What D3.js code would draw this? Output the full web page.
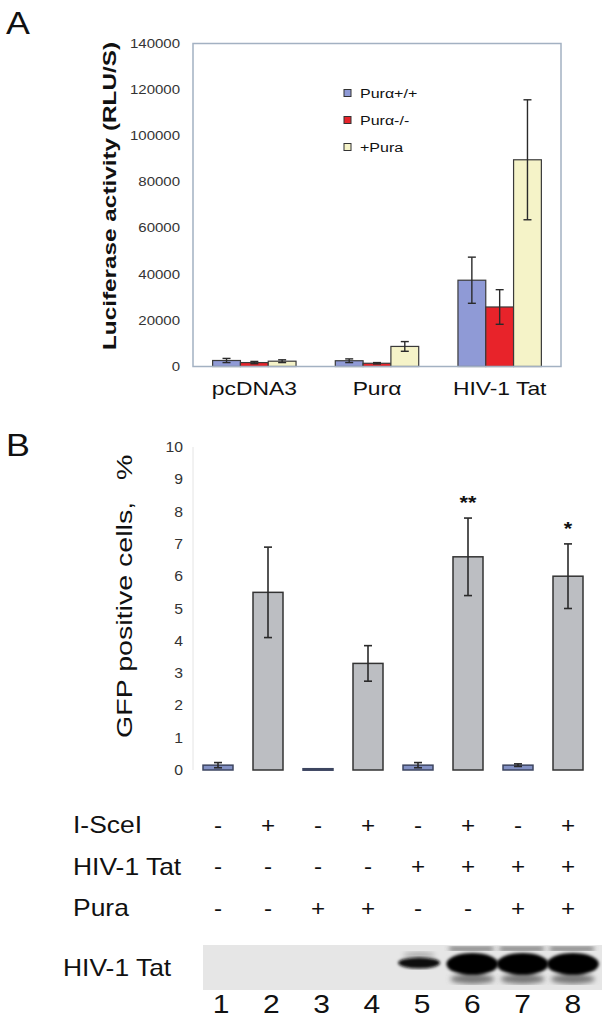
<!DOCTYPE html>
<html><head><meta charset="utf-8">
<script src="https://cdn.jsdelivr.net/npm/d3@7"></script>
<style>body{margin:0;background:#fff}svg{display:block;font-family:"Liberation Sans",Arial,sans-serif}</style>
</head><body>
<svg id="c" width="609" height="1021"></svg>
<script>
// ---------- Panel A data ----------
const groupsA = ["pcDNA3", "Purα", "HIV-1 Tat"];
const seriesA = ["Purα+/+", "Purα-/-", "+Pura"];
const valPlus  = [2600, 2500, 37400];
const errPlus  = [900, 800, 10000];
const valMinus = [1700, 1400, 25800];
const errMinus = [500, 300, 7500];
const valPura  = [2300, 8700, 89600];
const errPura  = [600, 2100, 26000];
const ticksA = [0, 20000, 40000, 60000, 80000, 100000, 120000, 140000];

// ---------- Panel B data ----------
const lanes = ["1", "2", "3", "4", "5", "6", "7", "8"];
const gfp    = [0.15, 5.5, 0.04, 3.3, 0.15, 6.6, 0.15, 6.0];
const gfpErr = [0.08, 1.4, 0.0, 0.55, 0.08, 1.2, 0.04, 1.0];
const stars  = ["", "", "", "", "", "**", "", "*"];
const ticksB = [0, 1, 2, 3, 4, 5, 6, 7, 8, 9, 10];
const rowNames = ["I-SceI", "HIV-1 Tat", "Pura"];
const iscei  = ["-", "+", "-", "+", "-", "+", "-", "+"];
const hivTat = ["-", "-", "-", "-", "+", "+", "+", "+"];
const pura   = ["-", "-", "+", "+", "-", "-", "+", "+"];
const blotSignal = [0, 0, 0, 0, 0.5, 1, 1, 1];

const svg = d3.select("#c");
svg.append("rect").attr("width", 609).attr("height", 1021).attr("fill", "#fff");

function txt(g, s, x, y, size, sx, anchor, weight, rot) {
  return g.append("text").text(s)
    .attr("transform", `translate(${x},${y})` + (rot ? " rotate(-90)" : "") + ` scale(${sx},1)`)
    .attr("font-size", size).attr("text-anchor", anchor || "start")
    .attr("font-weight", weight || "normal").attr("fill", "#111");
}

// ================= Panel A =================
const gA = svg.append("g");
const xA = d3.scaleBand().domain(groupsA).range([193, 561]).paddingInner(0.32).paddingOuter(0.16);
const xSub = d3.scaleBand().domain(seriesA).range([0, xA.bandwidth()]);
const yA = d3.scaleLinear().domain([0, 140000]).range([366.5, 43.5]);
const colA = d3.scaleOrdinal().domain(seriesA).range(["#8f9ad6", "#e8232a", "#f5f3c8"]);

txt(gA, "A", 6, 34, 32, 1.12);

ticksA.forEach(t => {
  txt(gA, String(t), 180, yA(t) + 4.3, 12, 1.25, "end").attr("fill", "#333");
});
txt(gA, "Luciferase activity (RLU/S)", 116, 196, 19, 1.28, "middle", "bold", true);

const rowsA = groupsA.map((g, i) => [
  {g, s: seriesA[0], v: valPlus[i], e: errPlus[i]},
  {g, s: seriesA[1], v: valMinus[i], e: errMinus[i]},
  {g, s: seriesA[2], v: valPura[i], e: errPura[i]}
]).flat();

gA.selectAll("rect.bar").data(rowsA).join("rect").attr("class", "bar")
  .attr("x", d => xA(d.g) + xSub(d.s))
  .attr("y", d => yA(d.v))
  .attr("width", xSub.bandwidth())
  .attr("height", d => yA(0) - yA(d.v))
  .attr("fill", d => colA(d.s)).attr("stroke", "#3a3a3a").attr("stroke-width", 1.2);

const ebA = gA.selectAll("g.eb").data(rowsA).join("g").attr("class", "eb")
  .attr("stroke", "#2a2a2a").attr("stroke-width", 1.4);
ebA.append("line")
  .attr("x1", d => xA(d.g) + xSub(d.s) + xSub.bandwidth() / 2)
  .attr("x2", d => xA(d.g) + xSub(d.s) + xSub.bandwidth() / 2)
  .attr("y1", d => yA(d.v + d.e)).attr("y2", d => yA(Math.max(0, d.v - d.e)));
[1, -1].forEach(sgn => {
  ebA.append("line")
    .attr("x1", d => xA(d.g) + xSub(d.s) + xSub.bandwidth() / 2 - 4)
    .attr("x2", d => xA(d.g) + xSub(d.s) + xSub.bandwidth() / 2 + 4)
    .attr("y1", d => yA(Math.max(0, d.v + sgn * d.e)))
    .attr("y2", d => yA(Math.max(0, d.v + sgn * d.e)));
});

gA.append("rect").attr("x", 193).attr("y", yA(140000)).attr("width", 368)
  .attr("height", yA(0) - yA(140000)).attr("fill", "none")
  .attr("stroke", "#a3b1c2").attr("stroke-width", 1.5);

groupsA.forEach(g => txt(gA, g, xA(g) + xA.bandwidth() / 2, 395, 18, 1.27, "middle"));

const legY = d3.scalePoint().domain(seriesA).range([93, 147]);
seriesA.forEach(s => {
  gA.append("rect").attr("x", 344).attr("y", legY(s) - 3.5).attr("width", 7).attr("height", 7)
    .attr("fill", colA(s)).attr("stroke", "#333").attr("stroke-width", 1);
  txt(gA, s, 360, legY(s) + 4.5, 12.5, 1.28, "start");
});

// ================= Panel B =================
const gB = svg.append("g");
const xB = d3.scaleBand().domain(lanes).range([193, 593]).paddingInner(0.4).paddingOuter(0.2);
const yB = d3.scaleLinear().domain([0, 10]).range([770, 447]);

txt(gB, "B", 6, 456, 32, 1.12);

gB.append("line").attr("x1", 193).attr("x2", 193).attr("y1", yB(10)).attr("y2", yB(0))
  .attr("stroke", "#e4e4e4").attr("stroke-width", 1);

ticksB.forEach(t => txt(gB, String(t), 183, yB(t) + 5, 15, 1.05, "end").attr("fill", "#333"));
txt(gB, "GFP positive cells,", 132, 738, 22, 1.3, "start", "normal", true);
txt(gB, "%", 132, 480, 22, 1.3, "start", "normal", true);

const rowsB = lanes.map((l, i) => ({l, v: gfp[i], e: gfpErr[i], on: iscei[i] === "+", star: stars[i]}));
gB.selectAll("rect.bar").data(rowsB).join("rect").attr("class", "bar")
  .attr("x", d => xB(d.l)).attr("y", d => yB(d.v))
  .attr("width", xB.bandwidth()).attr("height", d => Math.max(1.5, yB(0) - yB(d.v)))
  .attr("fill", d => d.on ? "#bcbec2" : "#8391c4")
  .attr("stroke", d => d.on ? "#333" : "#3d4560").attr("stroke-width", 1.5);

const ebB = gB.selectAll("g.eb").data(rowsB.filter(d => d.e > 0)).join("g").attr("class", "eb")
  .attr("stroke", "#2a2a2a").attr("stroke-width", 1.6);
ebB.append("line")
  .attr("x1", d => xB(d.l) + xB.bandwidth() / 2).attr("x2", d => xB(d.l) + xB.bandwidth() / 2)
  .attr("y1", d => yB(d.v + d.e)).attr("y2", d => yB(Math.max(0, d.v - d.e)));
[1, -1].forEach(sgn => {
  ebB.append("line")
    .attr("x1", d => xB(d.l) + xB.bandwidth() / 2 - 4).attr("x2", d => xB(d.l) + xB.bandwidth() / 2 + 4)
    .attr("y1", d => yB(Math.max(0, d.v + sgn * d.e))).attr("y2", d => yB(Math.max(0, d.v + sgn * d.e)));
});
rowsB.filter(d => d.star).forEach(d => {
  txt(gB, d.star, xB(d.l) + xB.bandwidth() / 2, yB(d.v + d.e) - 9, 18, 1.2, "middle", "bold");
});

const rowY = d3.scalePoint().domain(rowNames).range([825, 908]);
const rowVals = {"I-SceI": iscei, "HIV-1 Tat": hivTat, "Pura": pura};
rowNames.forEach(r => {
  txt(gB, r, 73, rowY(r) + 8, 23, 1.15, "start");
  rowVals[r].forEach((s, i) => {
    txt(gB, s, xB(lanes[i]) + xB.bandwidth() / 2, rowY(r) + 7.5, 22, 1.1, "middle");
  });
});

// western blot
const xL = d3.scaleBand().domain(lanes).range([196, 598]);
const defs = svg.append("defs");
defs.append("filter").attr("id", "blur").append("feGaussianBlur").attr("stdDeviation", 1.6);
defs.append("filter").attr("id", "blur2").append("feGaussianBlur").attr("stdDeviation", 2.5);
gB.append("rect").attr("x", 203).attr("y", 945).attr("width", 399).attr("height", 45).attr("fill", "#e6e6e6");
txt(gB, "HIV-1 Tat", 63, 976, 23, 1.15, "start");
const blot = gB.append("g");
lanes.forEach((l, i) => {
  const s = blotSignal[i];
  if (!s) return;
  const cx = xL(l) + xL.bandwidth() / 2;
  if (s < 1) {
    blot.append("ellipse").attr("cx", cx - 3).attr("cy", 955).attr("rx", 16).attr("ry", 3)
      .attr("fill", "#aaa").attr("filter", "url(#blur2)");
    blot.append("ellipse").attr("cx", cx - 3).attr("cy", 963).attr("rx", 21).attr("ry", 5.5)
      .attr("fill", "#0a0a0a").attr("filter", "url(#blur)");
  } else {
    blot.append("rect").attr("x", cx - 23).attr("y", 947).attr("width", 44).attr("height", 3.5)
      .attr("fill", "#555").attr("filter", "url(#blur2)");
    blot.append("ellipse").attr("cx", cx).attr("cy", 979).attr("rx", 22).attr("ry", 5)
      .attr("fill", "#777").attr("filter", "url(#blur2)");
    blot.append("ellipse").attr("cx", cx).attr("cy", 964).attr("rx", 26).attr("ry", 11)
      .attr("fill", "#050505").attr("filter", "url(#blur)");
  }
});
lanes.forEach(l => txt(gB, l, xL(l) + xL.bandwidth() / 2, 1013, 25, 1.2, "middle"));
</script>
</body></html>
